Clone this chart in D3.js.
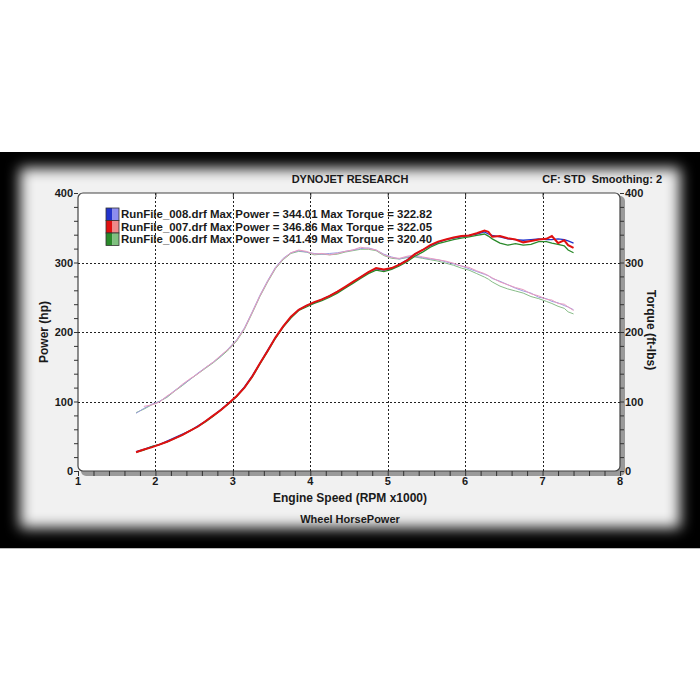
<!DOCTYPE html>
<html><head><meta charset="utf-8">
<script src="https://cdn.jsdelivr.net/npm/d3@7"></script>
<style>body{margin:0;background:#fff}svg{display:block}text{font-family:"Liberation Sans",Arial,sans-serif;font-weight:bold;fill:#1a1a1a}</style>
</head><body><svg id="c" width="700" height="700"></svg>
<script>
const rpmTicks = [1,2,3,4,5,6,7,8];
const yTicks = [0,100,200,300,400];
const runNames = ["RunFile_008.drf","RunFile_007.drf","RunFile_006.drf"];
const maxPower = ["344.01","346.86","341.49"];
const maxTorque = ["322.82","322.05","320.40"];
const runColors = ["#2233cc","#e01010","#2a8a2a"];
const runLight = ["#8c8cf0","#f08a8a","#7fc07f"];
const torqueColors = ["#9d9de0","#e89ac0","#88bd88"];

const rpmLow = [1.75,1.85,1.95,2.05,2.15,2.25,2.35,2.45,2.55,2.65,2.75,2.85,2.95,3.05,3.15,3.25,3.35,3.45,3.55,3.65,3.75,3.85,3.95,4.05,4.15,4.25,4.35,4.45,4.55,4.65,4.75,4.85,4.95,5.05,5.15,5.25,5.35,5.45,5.55,5.65,5.75,5.85,5.95,6.05,6.15,6.25];
const rpmHigh = [6.30,6.35,6.45,6.55,6.65,6.75,6.85,6.95,7.05,7.12,7.20,7.28,7.33,7.40];

// Power (hp)
const power007 = [27,31,34,38,42,47,52,58,64,72,80,88,98,108,120,136,155,173,192,208,222,232,238,243,247,252,258,265,272,279,286,292,290,292,297,303,312,318,325,330,333,336,338,339,342,346,
                  344,337,338,335,333,329,331,333,334,338,328,332,325,321];
const power008 = [28,31,35,38,43,48,53,58,65,72,80,89,98,108,121,137,155,174,192,208,221,232,238,242,247,252,258,264,272,279,286,291,289,291,297,304,312,318,324,329,333,335,337,339,341,344,
                  341,339,337,334,333,332,333,334,333,333,334,333,331,328];
const power006 = [27,30,35,38,42,47,52,58,64,71,79,88,97,107,120,135,154,172,191,207,220,231,236,241,245,250,256,263,270,277,284,289,287,290,295,301,309,315,322,327,330,333,335,337,339,341,
                  338,334,328,325,327,325,326,330,330,328,326,324,318,314];
// Torque (ft-lbs)
const torque007 = [null,93,95,99,108,115,125,133,140,149,157,167,176,188,205,228,252,273,292,305,314,318,316,312,313,311,313,316,318,322,320,318,311,307,306,309,311,308,306,304,302,299,295,293,288,284,
                   281,278,272,268,264,261,255,252,247,246,241,240,236,231];
const torque008 = [83,90,96,100,107,116,124,132,141,149,157,166,177,189,206,229,253,274,293,306,314,317,315,313,312,313,314,316,318,320,321,318,312,308,305,308,309,307,305,304,301,298,295,291,287,283,
                   281,277,273,268,263,259,256,250,248,244,242,238,236,232];
const torque006 = [84,89,95,100,106,115,123,132,140,148,156,165,175,187,204,227,251,272,291,304,313,316,315,311,312,311,312,315,317,319,319,317,310,306,305,307,308,306,304,302,299,296,292,289,284,279,
                   276,272,266,262,259,256,251,248,244,241,237,234,229,226];

const rpm = rpmLow.concat(rpmHigh);
const powerSeries = [power008, power006, power007];
const powerCol = [runColors[0], runColors[2], runColors[1]];
const torqueSeries = [torque006, torque008, torque007];
const torqueCol = [torqueColors[2], torqueColors[0], torqueColors[1]];

const svg = d3.select("#c");
const defs = svg.append("defs");
const f = defs.append("filter").attr("id","blur").attr("x","-20%").attr("y","-20%").attr("width","140%").attr("height","140%");
f.append("feGaussianBlur").attr("stdDeviation",7);

// frame
svg.append("rect").attr("x",0).attr("y",152).attr("width",700).attr("height",396).attr("fill","#000");
svg.append("rect").attr("x",20).attr("y",168).attr("width",660).attr("height",360).attr("fill","#f1f1f1").attr("filter","url(#blur)");
svg.append("line").attr("x1",0).attr("x2",700).attr("y1",548.5).attr("y2",548.5).attr("stroke","#bbb");

const L=78, R=620, T=193, B=471;
const x = d3.scaleLinear().domain([1,8]).range([L,R]);
const y = d3.scaleLinear().domain([0,400]).range([B,T]);
const y2 = d3.scaleLinear().domain([0,400]).range([B,T]);

// shadow + plot area
svg.append("rect").attr("x",L+3).attr("y",T+3).attr("width",R-L+2).attr("height",B-T+2).attr("rx",5).attr("fill","#9a9a9a");
svg.append("rect").attr("x",L).attr("y",T).attr("width",R-L).attr("height",B-T).attr("rx",5).attr("fill","#fff").attr("stroke","#444").attr("stroke-width",1.2);

// gridlines
const g = svg.append("g");
g.selectAll("line.h").data(yTicks.filter(d=>d>0&&d<400)).join("line")
 .attr("x1",L).attr("x2",R).attr("y1",d=>Math.round(y(d))+0.5).attr("y2",d=>Math.round(y(d))+0.5)
 .attr("stroke","#222").attr("stroke-dasharray","2,2");
g.selectAll("line.v").data(rpmTicks.filter(d=>d>1&&d<8)).join("line")
 .attr("y1",T).attr("y2",B).attr("x1",d=>Math.round(x(d))+0.5).attr("x2",d=>Math.round(x(d))+0.5)
 .attr("stroke","#222").attr("stroke-dasharray","2,2");

// axes ticks
const minorX = d3.range(1,8.01,0.2);
const minorY = d3.range(0,400.1,20);
svg.append("g").attr("transform",`translate(0,${B})`)
 .call(d3.axisBottom(x).tickValues(minorX).tickSize(5).tickFormat(""))
 .call(a=>a.select(".domain").remove()).selectAll("line").attr("stroke","#333");
svg.append("g").attr("transform",`translate(0,${T})`)
 .call(d3.axisBottom(x).tickValues(rpmTicks.slice(1,-1)).tickSize(4).tickFormat(""))
 .call(a=>a.select(".domain").remove()).selectAll("line").attr("stroke","#333");
svg.append("g").attr("transform",`translate(${L},0)`)
 .call(d3.axisLeft(y).tickValues(minorY).tickSize(4).tickFormat(""))
 .call(a=>a.select(".domain").remove()).selectAll("line").attr("stroke","#333");
svg.append("g").attr("transform",`translate(${R},0)`)
 .call(d3.axisRight(y2).tickValues(minorY).tickSize(4).tickFormat(""))
 .call(a=>a.select(".domain").remove()).selectAll("line").attr("stroke","#333");

// tick labels
svg.selectAll("text.yl").data(yTicks).join("text").attr("x",73).attr("y",d=>y(d)+4)
 .attr("text-anchor","end").attr("font-size",11).text(d=>d);
svg.selectAll("text.yr").data(yTicks).join("text").attr("x",625).attr("y",d=>y2(d)+4)
 .attr("text-anchor","start").attr("font-size",11).text(d=>d);
svg.selectAll("text.xl").data(rpmTicks).join("text").attr("x",d=>x(d)).attr("y",485)
 .attr("text-anchor","middle").attr("font-size",11).text(d=>d);

// titles
svg.append("text").attr("x",350).attr("y",183).attr("text-anchor","middle").attr("font-size",11).text("DYNOJET RESEARCH");
svg.append("text").attr("x",662).attr("y",183).attr("text-anchor","end").attr("font-size",11).attr("xml:space","preserve").text("CF: STD  Smoothing: 2");
svg.append("text").attr("x",350).attr("y",502).attr("text-anchor","middle").attr("font-size",12).text("Engine Speed (RPM x1000)");
svg.append("text").attr("x",350).attr("y",523).attr("text-anchor","middle").attr("font-size",11).text("Wheel HorsePower");
svg.append("text").attr("transform","translate(48,332) rotate(-90)").attr("text-anchor","middle").attr("font-size",12).text("Power (hp)");
svg.append("text").attr("transform","translate(647,330) rotate(90)").attr("text-anchor","middle").attr("font-size",12).text("Torque (ft-lbs)");

// curves
const line = d3.line().defined(d=>d[1]!=null).x(d=>x(d[0])).y(d=>y(d[1]));
const lineT = d3.line().defined(d=>d[1]!=null).x(d=>x(d[0])).y(d=>y2(d[1]));
torqueSeries.forEach((s,i)=>{
  svg.append("path").datum(rpm.map((r,j)=>[r,s[j]])).attr("d",lineT)
   .attr("fill","none").attr("stroke",torqueCol[i]).attr("stroke-width",1);
});
powerSeries.forEach((s,i)=>{
  svg.append("path").datum(rpm.map((r,j)=>[r,s[j]])).attr("d",line)
   .attr("fill","none").attr("stroke",powerCol[i]).attr("stroke-width",i==2?2:1.3);
});

// legend
const lg = svg.append("g");
runNames.forEach((n,i)=>{
  const yy = 208 + i*12.5;
  lg.append("rect").attr("x",106).attr("y",yy).attr("width",6.5).attr("height",12.5).attr("fill",runColors[i]);
  lg.append("rect").attr("x",112.5).attr("y",yy).attr("width",6.5).attr("height",12.5).attr("fill",runLight[i]);
  lg.append("rect").attr("x",106).attr("y",yy).attr("width",13).attr("height",12.5).attr("fill","none").attr("stroke","#333").attr("stroke-width",0.8);
  lg.append("text").attr("x",121).attr("y",yy+10).attr("font-size",10.5)
    .attr("textLength",311).attr("lengthAdjust","spacingAndGlyphs")
    .text(`${n} Max Power = ${maxPower[i]} Max Torque = ${maxTorque[i]}`);
});
</script></body></html>
